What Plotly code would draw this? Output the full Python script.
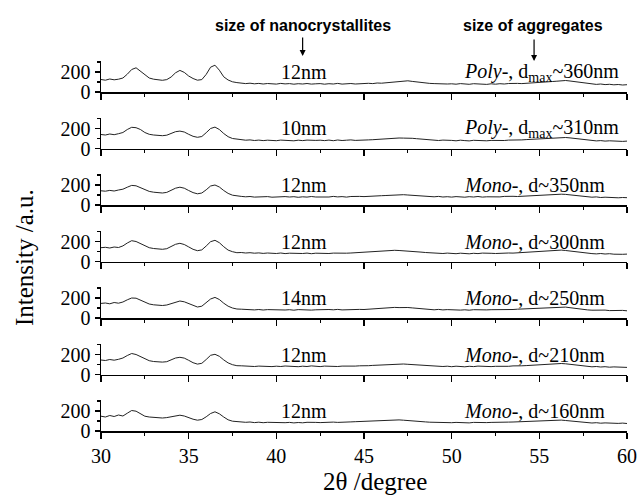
import plotly.graph_objects as go

# 2-theta grid (degree)
two_theta = [
    30.0, 30.25, 30.5, 30.75, 31.0, 31.25, 31.5, 31.75, 32.0, 32.25, 32.5, 32.75,
    33.0, 33.25, 33.5, 33.75, 34.0, 34.25, 34.5, 34.75, 35.0, 35.25, 35.5, 35.75,
    36.0, 36.25, 36.5, 36.75, 37.0, 37.25, 37.5, 37.75, 38.0, 38.25, 38.5, 38.75,
    39.0, 39.25, 39.5, 39.75, 40.0, 40.25, 40.5, 40.75, 41.0, 41.25, 41.5, 41.75,
    42.0, 42.25, 42.5, 42.75, 43.0, 43.25, 43.5, 43.75, 44.0, 44.25, 44.5, 44.75,
    45.0, 45.25, 45.5, 45.75, 46.0, 46.25, 46.5, 46.75, 47.0, 47.25, 47.5, 47.75,
    48.0, 48.25, 48.5, 48.75, 49.0, 49.25, 49.5, 49.75, 50.0, 50.25, 50.5, 50.75,
    51.0, 51.25, 51.5, 51.75, 52.0, 52.25, 52.5, 52.75, 53.0, 53.25, 53.5, 53.75,
    54.0, 54.25, 54.5, 54.75, 55.0, 55.25, 55.5, 55.75, 56.0, 56.25, 56.5, 56.75,
    57.0, 57.25, 57.5, 57.75, 58.0, 58.25, 58.5, 58.75, 59.0, 59.25, 59.5, 59.75,
    60.0,
]

# Intensities, 30.00-37.75 deg (peak region)
peaks_poly360 = [125, 118, 130, 122, 128, 140, 178, 225, 242, 208, 165, 140, 128, 121, 117, 124,
                 150, 192, 216, 196, 160, 135, 118, 124, 176, 248, 268, 218, 152, 120, 102, 94]
peaks_poly310 = [140, 135, 145, 138, 148, 160, 190, 212, 208, 190, 160, 142, 135, 130, 128, 133,
                 150, 168, 174, 165, 142, 122, 112, 120, 158, 200, 214, 190, 150, 118, 100, 92]
peaks_mono350 = [142, 138, 146, 140, 150, 158, 178, 196, 192, 175, 150, 136, 128, 122, 120, 126,
                 145, 168, 178, 168, 145, 124, 112, 120, 152, 190, 200, 180, 145, 116, 98, 90]
peaks_mono300 = [138, 142, 135, 145, 140, 156, 185, 208, 200, 180, 152, 138, 130, 125, 122, 128,
                 148, 172, 182, 170, 146, 122, 108, 116, 155, 198, 212, 188, 148, 114, 98, 88]
peaks_mono250 = [146, 150, 142, 155, 148, 160, 182, 200, 198, 180, 155, 140, 132, 128, 125, 130,
                 145, 162, 170, 162, 142, 122, 110, 118, 150, 190, 206, 185, 148, 118, 100, 90]
peaks_mono210 = [145, 140, 150, 143, 152, 165, 190, 210, 200, 178, 152, 138, 130, 126, 124, 128,
                 146, 165, 172, 164, 142, 118, 104, 112, 150, 192, 202, 182, 146, 116, 98, 88]
peaks_mono160 = [148, 140, 155, 145, 160, 150, 178, 205, 198, 170, 148, 140, 136, 132, 130, 134,
                 142, 152, 158, 150, 132, 118, 108, 115, 142, 175, 192, 172, 140, 112, 98, 92]

# Intensities, 38.00-60.00 deg (background region)
tail_poly360 = [90, 84, 88, 82, 86, 80, 85, 83,
                79, 86, 81, 84, 78, 83, 80, 85, 79, 82,
                84, 78, 83, 80, 86, 79, 82, 85, 80, 84,
                82, 87, 84, 90, 88, 93, 96, 100, 104, 108,
                112, 106, 100, 94, 90, 86, 84, 81, 85, 80,
                82, 78, 84, 80, 77, 83, 79, 81, 76, 82,
                78, 83, 80, 85, 82, 86, 84, 88, 90, 94,
                96, 98, 102, 105, 108, 112, 115, 110, 104, 96,
                88, 82, 78, 76, 80, 74, 77, 72, 75, 70, 73]
tail_poly310 = [88, 83, 86, 80, 84, 79, 83, 81,
                78, 84, 80, 82, 77, 83, 79, 84, 80, 81,
                83, 79, 84, 78, 85, 80, 83, 86, 81, 85,
                83, 86, 88, 92, 95, 98, 100, 103, 105, 104,
                106, 102, 98, 93, 89, 85, 83, 80, 84, 79,
                81, 77, 83, 79, 76, 82, 78, 80, 77, 81,
                79, 82, 80, 84, 83, 85, 86, 89, 92, 95,
                97, 99, 101, 104, 106, 109, 110, 106, 100, 94,
                87, 82, 79, 76, 79, 74, 77, 73, 76, 71, 74]
tail_mono350 = [86, 82, 85, 79, 83, 80, 84, 78,
                82, 79, 84, 80, 83, 77, 82, 79, 85, 80,
                78, 83, 80, 86, 81, 84, 79, 85, 82, 86,
                84, 88, 86, 90, 93, 95, 98, 101, 99, 103,
                100, 97, 94, 90, 87, 84, 82, 86, 80, 83,
                79, 84, 81, 78, 83, 80, 85, 79, 82, 80,
                84, 81, 86, 83, 87, 85, 88, 90, 93, 95,
                96, 98, 100, 103, 105, 108, 106, 102, 96, 90,
                85, 80, 78, 81, 75, 78, 74, 77, 72, 75, 73]
tail_mono300 = [90, 85, 88, 83, 86, 81, 85, 82,
                80, 85, 79, 83, 81, 86, 80, 84, 78, 83,
                81, 85, 80, 84, 82, 87, 83, 85, 88, 86,
                89, 92, 95, 98, 102, 105, 108, 112, 110, 107,
                110, 104, 99, 94, 90, 86, 83, 85, 80, 84,
                81, 78, 83, 80, 77, 82, 79, 84, 80, 82,
                80, 84, 82, 85, 84, 87, 89, 92, 95, 98,
                100, 103, 106, 108, 111, 114, 110, 104, 97, 90,
                85, 81, 79, 76, 80, 75, 78, 73, 76, 72, 74]
tail_mono250 = [88, 84, 87, 81, 85, 80, 84, 82,
                79, 84, 80, 83, 78, 84, 81, 85, 79, 82,
                84, 80, 85, 82, 86, 81, 84, 87, 83, 86,
                85, 89, 90, 94, 97, 100, 103, 106, 104, 107,
                105, 101, 97, 92, 88, 85, 82, 86, 81, 84,
                80, 83, 79, 82, 78, 83, 80, 84, 81, 83,
                82, 85, 83, 86, 85, 88, 90, 93, 96, 99,
                101, 104, 106, 109, 111, 113, 109, 103, 96, 90,
                84, 81, 78, 80, 76, 79, 74, 77, 73, 76, 72]
tail_mono210 = [87, 83, 86, 80, 84, 81, 85, 79,
                83, 80, 85, 81, 84, 78, 83, 80, 86, 81,
                79, 84, 81, 85, 80, 84, 82, 86, 84, 87,
                85, 88, 91, 93, 96, 99, 102, 104, 102, 105,
                102, 99, 95, 91, 87, 84, 81, 85, 80, 83,
                78, 83, 80, 77, 82, 79, 84, 80, 83, 79,
                82, 80, 84, 82, 86, 84, 87, 89, 92, 95,
                97, 99, 102, 104, 107, 110, 107, 101, 95, 89,
                84, 80, 77, 80, 75, 78, 73, 76, 72, 75, 71]
tail_mono160 = [92, 87, 90, 84, 88, 83, 87, 85,
                82, 87, 83, 86, 81, 85, 82, 87, 83, 86,
                84, 88, 85, 89, 86, 90, 88, 91, 93, 95,
                96, 98, 101, 103, 106, 108, 110, 113, 111, 108,
                106, 102, 98, 94, 91, 88, 86, 89, 84, 87,
                83, 86, 82, 85, 81, 86, 83, 87, 84, 86,
                85, 88, 86, 89, 90, 92, 94, 97, 99, 102,
                104, 106, 108, 110, 112, 109, 105, 100, 95, 90,
                86, 83, 80, 83, 78, 81, 77, 80, 76, 79, 75]

series = [
    (peaks_poly360 + tail_poly360, "12nm", "<i>Poly</i>-, d<sub>max</sub>~360nm"),
    (peaks_poly310 + tail_poly310, "10nm", "<i>Poly</i>-, d<sub>max</sub>~310nm"),
    (peaks_mono350 + tail_mono350, "12nm", "<i>Mono</i>-, d~350nm"),
    (peaks_mono300 + tail_mono300, "12nm", "<i>Mono</i>-, d~300nm"),
    (peaks_mono250 + tail_mono250, "14nm", "<i>Mono</i>-, d~250nm"),
    (peaks_mono210 + tail_mono210, "12nm", "<i>Mono</i>-, d~210nm"),
    (peaks_mono160 + tail_mono160, "12nm", "<i>Mono</i>-, d~160nm"),
]

W, H = 639, 497
x_left, x_right = 101, 627
serif = "Liberation Serif, Times New Roman, serif"
sans = "Liberation Sans, Arial, sans-serif"

fig = go.Figure()
layout = dict(
    template="none",
    width=W, height=H, margin=dict(l=0, r=0, t=0, b=0, pad=0, autoexpand=False),
    paper_bgcolor="white", plot_bgcolor="white", showlegend=False,
    font=dict(family=serif, size=20, color="black"),
)
annotations = []
n = len(series)
for k, (yvals, size_lbl, agg_lbl) in enumerate(series):
    i = k + 1
    base = 92 + 56.5 * k
    top = base - 31
    xa = "x" if i == 1 else f"x{i}"
    ya = "y" if i == 1 else f"y{i}"
    m = min(len(two_theta), len(yvals))
    fig.add_trace(go.Scatter(x=two_theta[:m], y=yvals[:m], mode="lines",
                             line=dict(color="#222222", width=1),
                             xaxis=xa, yaxis=ya, hoverinfo="skip"))
    layout[f"xaxis{i}"] = dict(
        domain=[x_left / W, x_right / W], anchor=ya, range=[30, 60], automargin=False,
        showline=True, linecolor="black", linewidth=1.5, mirror=False,
        ticks="outside", ticklen=6, tickwidth=1.3, tickcolor="black",
        tickvals=[30, 35, 40, 45, 50, 55, 60],
        showticklabels=(i == n), showgrid=False, zeroline=False,
        tickfont=dict(family=serif, size=20, color="black"),
        minor=dict(tickvals=[32.5, 37.5, 42.5, 47.5, 52.5, 57.5], ticks="outside",
                   ticklen=3, tickwidth=1.2, tickcolor="black", showgrid=False),
    )
    layout[f"yaxis{i}"] = dict(
        domain=[1 - base / H, 1 - top / H], anchor=xa, range=[0, 310], automargin=False,
        showline=True, linecolor="black", linewidth=1.5,
        ticks="outside", ticklen=5, tickwidth=1.3, tickcolor="black",
        tickvals=[0, 200], ticktext=["0", "200"], showgrid=False, zeroline=False,
        tickfont=dict(family=serif, size=20, color="black"),
        minor=dict(tickvals=[100, 300], ticks="outside", ticklen=3,
                   tickwidth=1.2, tickcolor="black", showgrid=False),
    )
    annotations.append(dict(x=41.55, y=200, xref=xa, yref=ya, text=size_lbl,
                            showarrow=False, xanchor="center", yanchor="middle",
                            font=dict(family=serif, size=20, color="black")))
    annotations.append(dict(x=50.6, y=200, xref=xa, yref=ya, text=agg_lbl,
                            showarrow=False, xanchor="left", yanchor="middle",
                            font=dict(family=serif, size=20, color="black")))

# Headings and arrows
annotations.append(dict(x=303 / W, y=1 - 25 / H, xref="paper", yref="paper",
                        text="<b>size of nanocrystallites</b>", showarrow=False,
                        xanchor="center", yanchor="middle",
                        font=dict(family=sans, size=16, color="black")))
annotations.append(dict(x=533 / W, y=1 - 25 / H, xref="paper", yref="paper",
                        text="<b>size of aggregates</b>", showarrow=False,
                        xanchor="center", yanchor="middle",
                        font=dict(family=sans, size=16, color="black")))
annotations.append(dict(x=41.5, y=1 - 56 / H, xref="x", yref="paper", text="",
                        showarrow=True, ax=0, ay=-20, arrowhead=2, arrowsize=1,
                        arrowwidth=1.2, arrowcolor="black"))
annotations.append(dict(x=54.7, y=1 - 61 / H, xref="x", yref="paper", text="",
                        showarrow=True, ax=0, ay=-23, arrowhead=2, arrowsize=1,
                        arrowwidth=1.2, arrowcolor="black"))
# Axis titles
annotations.append(dict(x=375 / W, y=1 - 481 / H, xref="paper", yref="paper",
                        text="2θ /degree", showarrow=False,
                        xanchor="center", yanchor="middle",
                        font=dict(family=serif, size=25, color="black")))
annotations.append(dict(x=24 / W, y=1 - 258 / H, xref="paper", yref="paper",
                        text="Intensity /a.u.", showarrow=False, textangle=-90,
                        xanchor="center", yanchor="middle",
                        font=dict(family=serif, size=25, color="black")))

layout["annotations"] = annotations
fig.update_layout(**layout)
fig.write_html("out.html",
               config={"displayModeBar": False, "staticPlot": True},
               post_script="document.body.style.margin='0px';"
                           "document.body.style.overflow='hidden';")
